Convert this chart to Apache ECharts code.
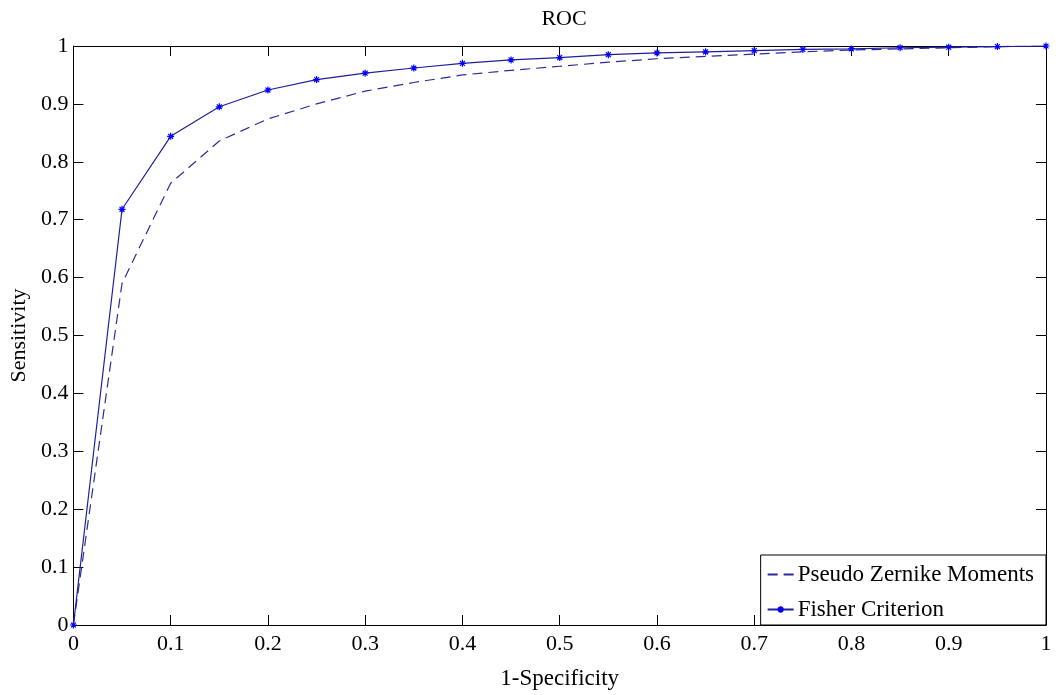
<!DOCTYPE html>
<html>
<head>
<meta charset="utf-8">
<script src="https://cdn.jsdelivr.net/npm/echarts@6/dist/echarts.min.js"></script>
<style>html,body{margin:0;padding:0;background:#fff}#c{width:1061px;height:695px}</style>
</head>
<body>
<div id="c"></div>
<script>
const fpr = [0, 0.05, 0.1, 0.15, 0.2, 0.25, 0.3, 0.35, 0.4, 0.45, 0.5, 0.55, 0.6, 0.65, 0.7, 0.75, 0.8, 0.85, 0.9, 0.95, 1];
const zernike = [0, 0.59, 0.763, 0.836, 0.874, 0.900, 0.922, 0.937, 0.950, 0.958, 0.965, 0.972, 0.978, 0.982, 0.986, 0.990, 0.993, 0.995, 0.997, 0.999, 1];
const fisher = [0, 0.718, 0.844, 0.895, 0.924, 0.942, 0.953, 0.962, 0.970, 0.976, 0.980, 0.985, 0.988, 0.990, 0.992, 0.994, 0.995, 0.997, 0.998, 0.999, 1];
const seriesNames = ['Pseudo Zernike Moments', 'Fisher Criterion'];
const titleText = 'ROC';
const xName = '1-Specificity';
const yName = 'Sensitivity';

const font = 'Liberation Serif';
const star = 'path://M5,0 L5,10 M0,5 L10,5 M1.5,1.5 L8.5,8.5 M1.5,8.5 L8.5,1.5';
const pair = (xs, ys) => xs.map((x, i) => [x, ys[i]]);

const baseAxis = {
  min: 0, max: 1, interval: 0.1,
  axisLine: { show: true, onZero: false, lineStyle: { color: '#000', width: 1 } },
  axisTick: { show: true, inside: true, length: 10, lineStyle: { color: '#000' } },
  splitLine: { show: false },
  axisLabel: { color: '#000', fontFamily: font, fontSize: 22, formatter: v => String(+v.toFixed(1)) }
};

const chart = echarts.init(document.getElementById('c'), null, { renderer: 'canvas' });
chart.setOption({
  animation: false,
  backgroundColor: '#fff',
  title: { text: titleText, left: 559, textAlign: 'center', top: 3,
    textStyle: { fontFamily: font, fontSize: 22, fontWeight: 'normal', color: '#000' } },
  grid: { left: 73, right: 15, top: 46, bottom: 66, containLabel: false },
  legend: {
    right: 15, bottom: 70, orient: 'vertical', itemGap: 12,
    backgroundColor: '#fff', borderColor: '#000', borderWidth: 1, borderRadius: 0,
    padding: [8, 12, 4, 6], itemWidth: 26, itemHeight: 8,
    textStyle: { fontFamily: font, fontSize: 23, color: '#000', padding: [0, 0, 0, -1] },
    data: [
      { name: seriesNames[0], itemStyle: { opacity: 0 } },
      { name: seriesNames[1] }
    ]
  },
  xAxis: [
    Object.assign({}, baseAxis, { type: 'value', position: 'bottom', name: xName, nameLocation: 'middle', nameGap: 42,
      nameTextStyle: { fontFamily: font, fontSize: 23, color: '#000' },
      axisLabel: Object.assign({}, baseAxis.axisLabel, { margin: 8 }) }),
    Object.assign({}, baseAxis, { type: 'value', position: 'top', axisLabel: { show: false } })
  ],
  yAxis: [
    Object.assign({}, baseAxis, { type: 'value', position: 'left', name: yName, nameLocation: 'middle', nameGap: 34,
      nameTextStyle: { fontFamily: font, fontSize: 22, color: '#000' },
      axisLabel: Object.assign({}, baseAxis.axisLabel, { margin: 5 }) }),
    Object.assign({}, baseAxis, { type: 'value', position: 'right', axisLabel: { show: false } })
  ],
  series: [
    { name: seriesNames[0], type: 'line', data: pair(fpr, zernike), symbol: 'none',
      lineStyle: { color: '#2b2b9e', width: 1.2, type: [10, 6] }, itemStyle: { color: '#2b2b9e' } },
    { name: seriesNames[1], type: 'line', data: pair(fpr, fisher), symbol: star, symbolSize: 7,
      lineStyle: { color: '#1e1e9c', width: 1.2 },
      itemStyle: { color: '#0000ff', borderColor: '#0000ff', borderWidth: 1.2 } }
  ]
});
</script>
</body>
</html>
